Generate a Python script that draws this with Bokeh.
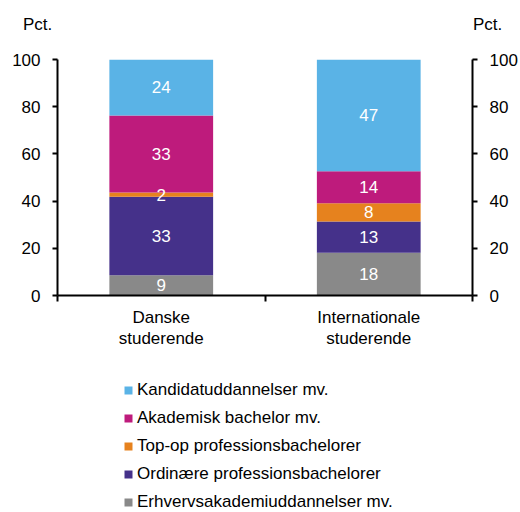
from bokeh.plotting import figure
from bokeh.layouts import column
from bokeh.models import (Range1d, LinearAxis, FixedTicker, Legend, LegendItem,
                          ColumnDataSource, Div)
from bokeh.core.properties import value
from bokeh.embed import file_html
from bokeh.resources import INLINE

groups = ["Danske\nstuderende", "Internationale\nstuderende"]
series = ["Erhvervsakademiuddannelser mv.", "Ordinære professionsbachelorer",
          "Top-op professionsbachelorer", "Akademisk bachelor mv.",
          "Kandidatuddannelser mv."]
danske = [8.6, 33.2, 1.8, 32.7, 23.7]
internationale = [18.1, 13.3, 7.7, 13.6, 47.3]
colors = ["#898989", "#45318A", "#E6821E", "#BE1B7C", "#5AB3E6"]
yticks = [0, 20, 40, 60, 80, 100]
unit = "Pct."

FONT = "Liberation Sans"
FS = "17px"

xs = [0.5, 1.5]
data = {"x": xs}
keys = []
for i, s in enumerate(series):
    k = f"s{i}"
    keys.append(k)
    data[k] = [danske[i], internationale[i]]
src = ColumnDataSource(data)

p = figure(frame_width=415, frame_height=236,
           output_backend="svg", toolbar_location=None,
           x_range=Range1d(0, 2), y_range=Range1d(0, 100),
           min_border_left=57, min_border_right=48, min_border_top=19,
           min_border_bottom=60, x_axis_location=None, y_axis_location=None)
p.grid.visible = False
p.outline_line_color = None

rs = p.vbar_stack(keys, x="x", width=0.5, source=src, color=colors,
                  line_color=None)

# value labels
lx, ly, lt = [], [], []
for vals, x in ((danske, 0.5), (internationale, 1.5)):
    cum = 0
    for v in vals:
        lx.append(x)
        ly.append(cum + v / 2)
        lt.append(f"{v:.0f}")
        cum += v
p.text(x=lx, y=ly, text=lt, text_color="white", text_align="center",
       text_baseline="middle", text_font=value(FONT), text_font_size=FS)

def style_y(ax):
    ax.ticker = FixedTicker(ticks=yticks)
    ax.axis_line_width = 2
    ax.axis_line_color = "black"
    ax.major_tick_line_width = 2
    ax.major_tick_in = 0
    ax.major_tick_out = 5
    ax.minor_tick_line_color = None
    ax.major_label_text_font = FONT
    ax.major_label_text_font_size = FS
    ax.major_label_text_color = "black"
    ax.major_label_standoff = 12

yl = LinearAxis()
style_y(yl)
p.add_layout(yl, "left")
yr = LinearAxis()
style_y(yr)
p.add_layout(yr, "right")

xa = LinearAxis(ticker=FixedTicker(ticks=xs, minor_ticks=[0, 1, 2]))
xa.axis_line_width = 2
xa.axis_line_color = "black"
xa.major_tick_line_color = None
xa.major_tick_out = 0
xa.major_tick_in = 0
xa.minor_tick_line_width = 2
xa.minor_tick_line_color = "black"
xa.minor_tick_in = 0
xa.minor_tick_out = 6
xa.major_label_overrides = {0.5: groups[0], 1.5: groups[1]}
xa.major_label_text_font = FONT
xa.major_label_text_font_size = FS
xa.major_label_text_color = "black"
xa.major_label_text_line_height = 1.15
xa.major_label_standoff = 6
p.add_layout(xa, "below")

# legend panel (same series, plotted outside its visible range)
p2 = figure(frame_width=520, frame_height=157, output_backend="svg",
            toolbar_location=None, x_range=Range1d(0, 2),
            y_range=Range1d(1000, 1001), min_border=0,
            x_axis_location=None, y_axis_location=None)
p2.grid.visible = False
p2.outline_line_color = None
rs2 = p2.vbar_stack(keys, x="x", width=0.5, source=src, color=colors,
                    line_color=None)
items = [LegendItem(label=series[i], renderers=[rs2[i]]) for i in range(4, -1, -1)]
leg = Legend(items=items, orientation="vertical", location=(123, 0),
             label_text_font=FONT, label_text_font_size=FS,
             label_text_color="black",
             glyph_width=10, glyph_height=10, label_height=20,
             label_standoff=4, spacing=8, padding=0, margin=0,
             border_line_color=None, background_fill_alpha=0)
p2.add_layout(leg)

span = ("position:absolute;top:15px;line-height:20px;"
        "font-family:'Liberation Sans';font-size:17px;color:black;")
head = Div(width=520, height=40, margin=0,
           text=(f'<div style="position:relative;width:520px;height:40px;">'
                 f'<span style="{span}left:23px;">{unit}</span>'
                 f'<span style="{span}left:473px;">{unit}</span></div>'))

layout = column(head, p, p2, spacing=0)
open("out.html", "w").write(file_html(layout, INLINE))
